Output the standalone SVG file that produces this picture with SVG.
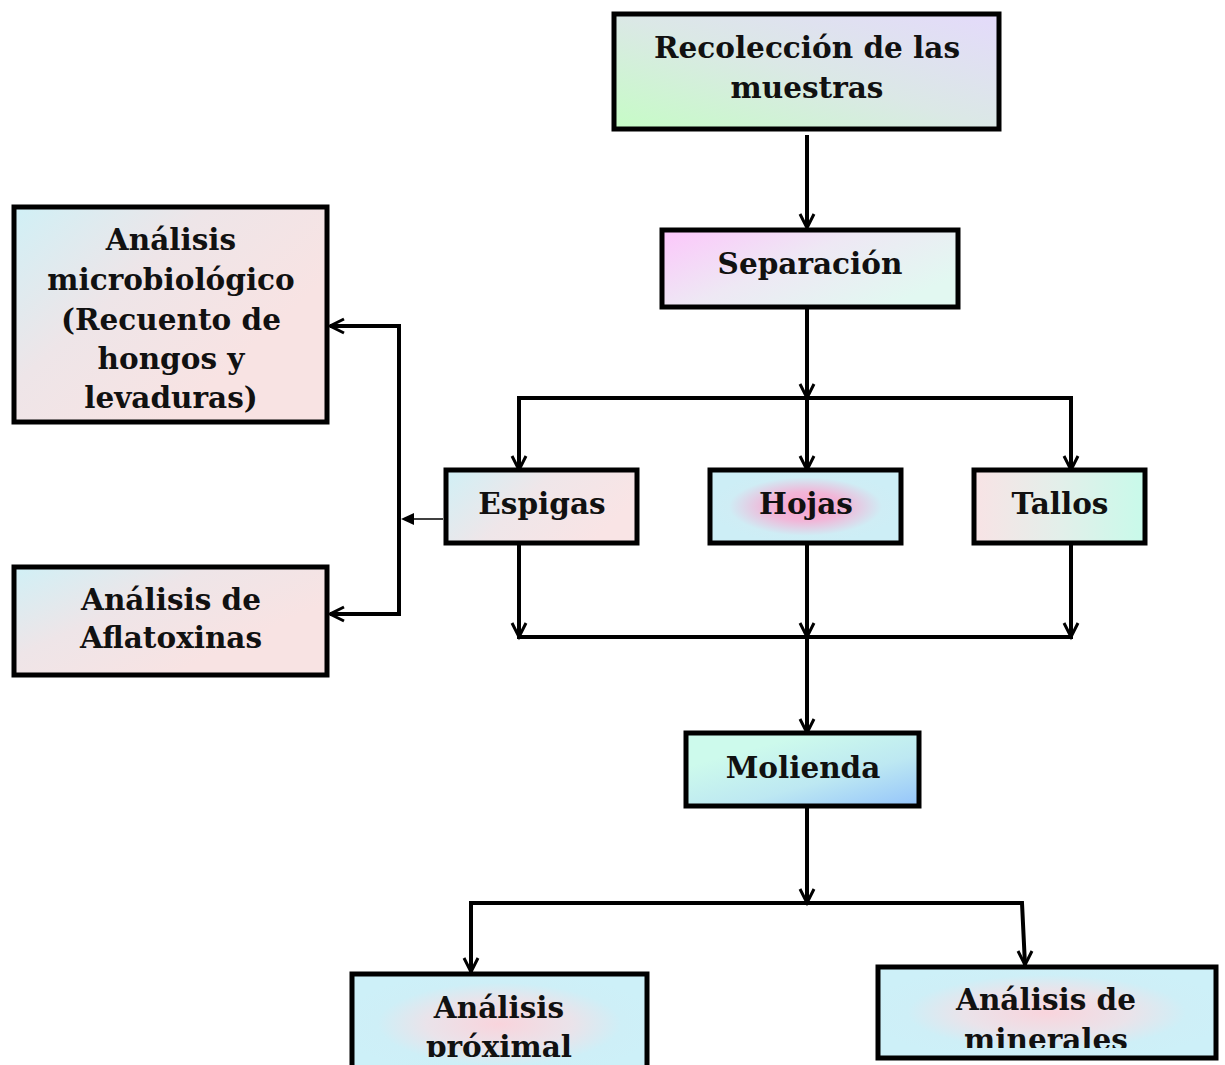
<svg xmlns="http://www.w3.org/2000/svg" width="1225" height="1065" viewBox="0 0 1225 1065">
<style>
.box{stroke:#000;stroke-width:5}
.t{font-family:"DejaVu Serif","Liberation Serif",serif;font-weight:bold;font-size:29.5px;fill:#111;text-anchor:middle}
.c{fill:none;stroke:#000;stroke-width:4}
.ah{fill:none;stroke:#000;stroke-width:3}
</style>
<defs>
<linearGradient id="gTop" x1="0" y1="1" x2="1" y2="0"><stop offset="0" stop-color="#c6fcc6"/><stop offset="0.5" stop-color="#dbe8e6"/><stop offset="1" stop-color="#e4dafb"/></linearGradient>
<linearGradient id="gSep" x1="0" y1="0" x2="1" y2="0.6"><stop offset="0" stop-color="#fcc6fb"/><stop offset="0.5" stop-color="#eee8f4"/><stop offset="1" stop-color="#e2f8f1"/></linearGradient>
<linearGradient id="gLeft" x1="0" y1="0" x2="0.8" y2="0.6"><stop offset="0" stop-color="#d0f0f6"/><stop offset="0.5" stop-color="#eee5e8"/><stop offset="1" stop-color="#f8e3e3"/></linearGradient>
<linearGradient id="gEsp" x1="0" y1="0" x2="1" y2="0.4"><stop offset="0" stop-color="#d0f0f6"/><stop offset="0.5" stop-color="#efe6e9"/><stop offset="1" stop-color="#f9e4e5"/></linearGradient>
<radialGradient id="gHoj" cx="0.5" cy="0.5" r="0.5"><stop offset="0" stop-color="#f8a3cf"/><stop offset="0.4" stop-color="#f1b6d8"/><stop offset="0.8" stop-color="#cfedf5"/><stop offset="1" stop-color="#cdeef6"/></radialGradient>
<linearGradient id="gTal" x1="0" y1="0" x2="1" y2="0"><stop offset="0" stop-color="#f8e3e5"/><stop offset="0.5" stop-color="#e3efea"/><stop offset="1" stop-color="#c8faea"/></linearGradient>
<linearGradient id="gMol" x1="0.3" y1="0.2" x2="1" y2="1"><stop offset="0" stop-color="#cdfaec"/><stop offset="0.5" stop-color="#bde8f2"/><stop offset="1" stop-color="#94c4fb"/></linearGradient>
<radialGradient id="gBot" cx="0.5" cy="0.5" r="0.55"><stop offset="0" stop-color="#f9d4dc"/><stop offset="0.45" stop-color="#eae3ea"/><stop offset="0.75" stop-color="#ceeff7"/><stop offset="1" stop-color="#cdf0f8"/></radialGradient>
<clipPath id="clipProx"><rect x="352" y="974" width="295" height="83"/></clipPath>
<clipPath id="clipMin"><rect x="878" y="967" width="338" height="81"/></clipPath>
</defs>

<g id="connectors">
<line class="c" x1="807" y1="135" x2="807" y2="226"/>
<polyline class="ah" points="800,214 807,228 814,214"/>
<line class="c" x1="807" y1="307" x2="807" y2="398"/>
<polyline class="ah" points="800,384 807,398 814,384"/>
<polyline class="c" points="519,470 519,398 1071,398 1071,470"/>
<line class="c" x1="807" y1="398" x2="807" y2="468"/>
<polyline class="ah" points="512,456 519,470 526,456"/>
<polyline class="ah" points="800,456 807,470 814,456"/>
<polyline class="ah" points="1064,456 1071,470 1078,456"/>
<line class="c" x1="519" y1="543" x2="519" y2="637"/>
<line class="c" x1="807" y1="543" x2="807" y2="637"/>
<line class="c" x1="1071" y1="543" x2="1071" y2="637"/>
<polyline class="ah" points="512,623 519,637 526,623"/>
<polyline class="ah" points="800,623 807,637 814,623"/>
<polyline class="ah" points="1064,623 1071,637 1078,623"/>
<line class="c" x1="517" y1="637" x2="1073" y2="637"/>
<line class="c" x1="807" y1="637" x2="807" y2="731"/>
<polyline class="ah" points="800,719 807,733 814,719"/>
<line class="c" x1="807" y1="806" x2="807" y2="903"/>
<polyline class="ah" points="800,889 807,903 814,889"/>
<polyline class="c" points="471,972 471,903 1022,903 1025,965"/>
<polyline class="ah" points="464,958 471,972 478,958"/>
<polyline class="ah" points="1018,951 1025,965 1032,951"/>
<polyline class="c" points="330,326 399,326 399,614 330,614"/>
<polyline class="ah" points="344,319 330,326 344,333"/>
<polyline class="ah" points="344,607 330,614 344,621"/>
<line x1="443" y1="519" x2="410" y2="519" stroke="#000" stroke-width="1.5"/>
<polygon points="401,519 414,513 414,525" fill="#000"/>
</g>

<g id="recoleccion">
<rect class="box" x="614" y="14" width="385" height="115" fill="url(#gTop)"/>
<text class="t" x="807" y="58">Recolección de las</text>
<text class="t" x="807" y="98">muestras</text>
</g>
<g id="separacion">
<rect class="box" x="662" y="230" width="296" height="77" fill="url(#gSep)"/>
<text class="t" x="810" y="274">Separación</text>
</g>
<g id="microbiologico">
<rect class="box" x="14" y="207" width="313" height="215" fill="url(#gLeft)"/>
<text class="t" x="171" y="250">Análisis</text>
<text class="t" x="171" y="290">microbiológico</text>
<text class="t" x="171" y="330">(Recuento de</text>
<text class="t" x="171" y="369">hongos y</text>
<text class="t" x="171" y="408">levaduras)</text>
</g>
<g id="aflatoxinas">
<rect class="box" x="14" y="567" width="313" height="108" fill="url(#gLeft)"/>
<text class="t" x="171" y="610">Análisis de</text>
<text class="t" x="171" y="648">Aflatoxinas</text>
</g>
<g id="espigas">
<rect class="box" x="446" y="470" width="191" height="73" fill="url(#gEsp)"/>
<text class="t" x="542" y="514">Espigas</text>
</g>
<g id="hojas">
<rect class="box" x="710" y="470" width="191" height="73" fill="url(#gHoj)"/>
<text class="t" x="806" y="514">Hojas</text>
</g>
<g id="tallos">
<rect class="box" x="974" y="470" width="171" height="73" fill="url(#gTal)"/>
<text class="t" x="1060" y="514">Tallos</text>
</g>
<g id="molienda">
<rect class="box" x="686" y="733" width="233" height="73" fill="url(#gMol)"/>
<text class="t" x="803" y="778">Molienda</text>
</g>
<g id="proximal">
<rect class="box" x="352" y="974" width="295" height="100" fill="url(#gBot)"/>
<g clip-path="url(#clipProx)">
<text class="t" x="499" y="1018">Análisis</text>
<text class="t" x="499" y="1057">próximal</text>
</g>
</g>
<g id="minerales">
<rect class="box" x="878" y="967" width="338" height="91" fill="url(#gBot)"/>
<g clip-path="url(#clipMin)">
<text class="t" x="1046" y="1010">Análisis de</text>
<text class="t" x="1046" y="1050">minerales</text>
</g>
</g>
</svg>
